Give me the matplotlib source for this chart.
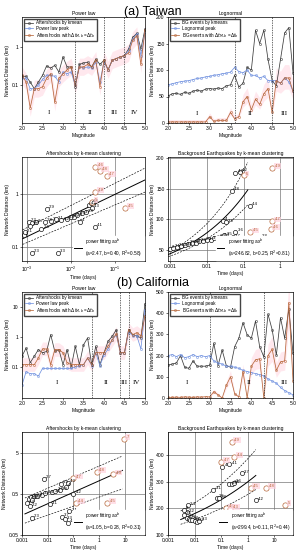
import numpy as np
import matplotlib
matplotlib.use("Agg")
import matplotlib.pyplot as plt
from matplotlib.lines import Line2D
from matplotlib.ticker import FuncFormatter, NullLocator

plt.rcParams['font.family'] = ['Liberation Sans', 'DejaVu Sans']

# magnitude bins
mags = [2.0, 2.1, 2.2, 2.3, 2.4, 2.5, 2.6, 2.7, 2.8, 2.9, 3.0, 3.1, 3.2, 3.3, 3.4, 3.5,
        3.6, 3.7, 3.8, 3.9, 4.0, 4.1, 4.2, 4.3, 4.4, 4.5, 4.6, 4.7, 4.8, 4.9, 5.0]

# (a) Taiwan, power law (aftershocks)
tw_pl_kmean = [0.17, 0.17, 0.12, 0.08, 0.12, 0.18, 0.32, 0.28, 0.33, 0.22, 0.55, 0.30, 0.30, 0.09, 0.35, 0.38,
               0.40, 0.30, 0.48, 0.35, 0.45, 0.25, 0.45, 0.50, 0.55, 0.60, 0.90, 1.80, 2.30, 0.90, 3.00]
tw_pl_peak = [0.15, 0.15, 0.08, 0.08, 0.10, 0.14, 0.18, 0.18, 0.17, 0.12, 0.22, 0.20, 0.22, 0.10, 0.30, 0.28,
              0.30, 0.28, 0.40, 0.12, 0.40, 0.25, 0.45, 0.50, 0.55, 0.60, 0.80, 1.60, 2.20, 0.60, 2.50]
tw_pl_dt = [0.18, 0.12, 0.025, 0.08, 0.08, 0.09, 0.15, 0.20, 0.035, 0.15, 0.20, 0.25, 0.30, 0.10, 0.30, 0.30,
            0.35, 0.30, 0.45, 0.09, 0.45, 0.25, 0.45, 0.50, 0.55, 0.60, 0.70, 1.50, 2.00, 0.35, 2.80]

# (a) Taiwan, lognormal (background)
tw_ln_kmean = [51, 55, 56, 54, 58, 56, 60, 62, 60, 64, 65, 64, 66, 65, 70, 72,
               90, 68, 75, 105, 100, 175, 150, 175, 120, 80, 70, 120, 170, 180, 95]
tw_ln_peak = [72, 74, 76, 78, 79, 80, 82, 84, 85, 87, 88, 90, 91, 93, 94, 96,
              105, 97, 95, 100, 90, 90, 85, 88, 80, 80, 80, 75, 85, 78, 60]
tw_ln_dt = [2, 2, 2, 2, 2, 2, 2, 2, 2, 2, 12, 3, 5, 5, 5, 20,
            8, 12, 40, 50, 25, 45, 35, 55, 65, 20, 80, 75, 85, 85, 60]

# (b) California, power law
ca_pl_kmean = [0.23, 0.43, 0.14, 0.23, 0.38, 0.30, 0.33, 1.20, 0.33, 0.38, 0.12, 0.38, 0.10, 0.49, 0.12, 0.55,
               0.93, 0.12, 0.49, 0.12, 0.30, 0.72, 1.05, 1.75, 0.30, 0.30, 1.75, 1.20, 1.10, 0.93, 13.0]
ca_pl_peak = [0.025, 0.07, 0.06, 0.06, 0.05, 0.09, 0.09, 0.09, 0.09, 0.09, 0.09, 0.09, 0.09, 0.10, 0.11, 0.12,
              0.20, 0.11, 0.30, 0.11, 0.25, 0.40, 0.80, 1.20, 0.30, 0.30, 1.50, 1.10, 1.10, 0.40, 8.0]
ca_pl_dt = [0.12, 0.12, 0.12, 0.12, 0.20, 0.40, 0.40, 0.12, 0.38, 0.38, 0.30, 0.14, 0.12, 0.12, 0.12, 0.12,
            0.20, 0.12, 0.30, 0.30, 0.30, 0.50, 0.80, 1.30, 0.30, 0.30, 1.75, 1.20, 1.40, 1.10, 5.0]

# (b) California, lognormal
ca_ln_kmean = [155, 160, 165, 200, 145, 140, 175, 150, 150, 150, 155, 258, 153, 226, 153, 145,
               242, 282, 355, 298, 282, 363, 242, 194, 395, 322, 202, 379, 282, 420, 210]
ca_ln_peak = [200, 205, 195, 205, 190, 195, 205, 195, 200, 195, 200, 175, 165, 160, 150, 150,
              145, 140, 130, 125, 120, 115, 110, 105, 90, 80, 70, 50, 35, 25, 15]
ca_ln_dt = [3, 3, 4, 3, 5, 4, 3, 5, 4, 6, 5, 30, 15, 0, 60, 100,
            20, 5, 125, 0, 150, 180, 185, 0, 200, 230, 130, 170, 175, 450, 80]

# scatter: (time days, distance km, magnitude)
tw_as_black = [(0.00085, 0.165, 2.0), (0.0009, 0.19, 2.1), (0.0011, 0.30, 2.2), (0.0013, 0.28, 2.4),
               (0.0016, 0.29, 2.7), (0.0012, 0.25, 2.5), (0.0021, 0.22, 2.6), (0.0028, 0.52, 2.9),
               (0.0025, 0.30, 2.8), (0.0035, 0.31, 3.0), (0.0045, 0.33, 3.1), (0.006, 0.32, 3.2),
               (0.008, 0.34, 3.4), (0.010, 0.36, 3.5), (0.012, 0.37, 3.9), (0.014, 0.40, 3.6),
               (0.018, 0.43, 3.7), (0.022, 0.45, 3.8), (0.016, 0.30, 4.0), (0.025, 0.62, 4.2),
               (0.030, 0.55, 4.3), (0.028, 0.68, 4.4), (0.035, 0.24, 4.1), (0.0013, 0.077, 2.3),
               (0.005, 0.078, 3.3)]
tw_as_orange = [(0.035, 3.3, 4.6), (0.045, 2.7, 4.8), (0.065, 2.2, 4.7), (0.035, 1.1, 4.9),
                (0.17, 0.55, 4.5), (0.03, 0.72, 5.0)]

tw_bg_black = [(0.001, 52, 2.0), (0.0012, 54, 2.1), (0.0015, 55, 2.2), (0.002, 56, 2.3),
               (0.0025, 58, 2.4), (0.003, 60, 2.5), (0.004, 61, 2.6), (0.005, 62, 2.7),
               (0.006, 64, 2.8), (0.008, 65, 2.9), (0.01, 66, 3.0), (0.013, 67, 3.1),
               (0.016, 69, 3.2), (0.02, 70, 3.3), (0.025, 72, 3.4), (0.03, 74, 3.5),
               (0.027, 98, 4.0), (0.033, 95, 3.9), (0.05, 71, 3.7), (0.06, 80, 3.6),
               (0.048, 147, 4.8), (0.06, 176, 4.3), (0.08, 178, 4.2), (0.145, 122, 4.4),
               (0.27, 70, 3.8)]
tw_bg_orange = [(0.6, 184, 4.9), (0.6, 97, 4.7), (0.55, 85, 4.6), (0.15, 79, 4.5), (0.1, 172, 5.0)]

ca_as_black = [(0.0018, 0.38, 2.6), (0.0022, 0.42, 2.8), (0.003, 0.44, 2.9), (0.004, 0.45, 3.0),
               (0.0025, 0.36, 2.5), (0.0015, 0.30, 2.4), (0.002, 0.25, 2.2), (0.0024, 0.13, 2.3),
               (0.0071, 1.16, 2.7), (0.006, 0.48, 3.2), (0.008, 0.52, 3.4), (0.012, 0.28, 3.1),
               (0.015, 0.55, 3.5), (0.02, 0.60, 3.6), (0.03, 0.62, 3.8), (0.033, 0.90, 3.9),
               (0.05, 0.75, 4.0), (0.06, 0.95, 4.3), (0.1, 0.50, 4.2), (0.035, 0.14, 3.7),
               (0.045, 0.12, 3.3), (0.06, 0.10, 4.1), (0.07, 0.19, 2.1)]
ca_as_orange = [(0.1, 1.2, 4.7), (0.8, 1.7, 4.8), (3.5, 1.5, 4.9), (0.12, 0.3, 4.4),
                (2.0, 0.3, 4.5), (9.0, 11.0, 7)]

ca_bg_black = [(0.11, 355, 4.0), (0.2, 365, 4.1), (0.6, 332, 3.7), (0.05, 270, 3.1),
               (0.2, 290, 3.9), (0.25, 292, 3.8), (0.3, 295, 3.6), (2.0, 230, 4.2),
               (0.07, 240, 3.5), (0.08, 238, 2.8), (0.0055, 212, 2.4), (0.004, 175, 2.5),
               (0.005, 165, 2.6), (0.006, 160, 2.3), (0.007, 158, 2.7), (0.008, 155, 2.9),
               (0.01, 152, 3.0), (0.012, 150, 3.2), (0.015, 153, 3.3), (0.005, 185, 2.2),
               (0.004, 195, 2.0)]
ca_bg_orange = [(0.25, 448, 4.9), (0.1, 373, 4.7), (0.3, 392, 4.4), (1.3, 276, 4.5),
                (5.0, 278, 4.8), (25.0, 212, 5), (0.15, 200, 4.6), (0.22, 198, 4.3)]

# power fits: a, b, R2, x-range, dashed band (a_lo, b_lo, a_hi, b_hi)
tw_as_fit = (2.47, 0.40, 0.58, (0.0008, 0.48), (1.41, 0.356, 4.2, 0.42))
tw_bg_fit = (246.82, 0.25, 0.81, (0.0009, 0.13), (199, 0.232, 347, 0.286))
ca_as_fit = (1.05, 0.28, 0.31, (0.0013, 8.0), (0.42, 0.22, 2.4, 0.27))
ca_bg_fit = (299.4, 0.11, 0.44, (0.003, 2.0), (252, 0.101, 386, 0.122))

C_K = '#3c3c3c'
C_P = '#7393e0'
C_D = '#b8683c'
FS = 3.6


def box(x0, y0, x1, y1):
    return [x0 / 300, 1 - y1 / 550, (x1 - x0) / 300, (y1 - y0) / 550]


def style(ax):
    for s in ax.spines.values():
        s.set_linewidth(0.5)
    ax.tick_params(labelsize=FS, length=1.5, width=0.4, pad=1)


def mag_panel(ax, k, p, d, labels, bounds, regions, title, log, ylim, yticks, reg_y):
    d = np.array(d, dtype=float)
    if log:
        ax.fill_between(mags, d * 0.6, d * 1.7, color='#ffb6c8', alpha=0.3, lw=0)
    else:
        ax.fill_between(mags, d * 0.75, d * 1.25 + 4, color='#ffb6c8', alpha=0.3, lw=0)
    ax.plot(mags, k, '-o', color=C_K, ms=1.5, lw=0.55, mfc='none', mew=0.4, label=labels[0])
    ax.plot(mags, p, '-o', color=C_P, ms=1.5, lw=0.55, mfc='none', mew=0.4, label=labels[1])
    ax.plot(mags, d, '-o', color=C_D, ms=1.5, lw=0.55, mfc='none', mew=0.4, label=labels[2])
    for b in bounds:
        ax.axvline(b, color='#333333', ls=(0, (2, 1.5)), lw=0.5)
    for x, t in regions:
        ax.text(x, reg_y, t, transform=ax.get_xaxis_transform(), ha='center', va='center',
                fontsize=5, family='Liberation Serif')
    if log:
        ax.set_yscale('log')
        ax.yaxis.set_minor_locator(NullLocator())
    ax.set_ylim(*ylim)
    ax.set_yticks(yticks)
    ax.yaxis.set_major_formatter(FuncFormatter(lambda v, pos: '%g' % v))
    ax.set_xlim(2.0, 5.0)
    ax.set_xticks([2.0, 2.5, 3.0, 3.5, 4.0, 4.5, 5.0])
    ax.set_xticklabels(['2.0', '2.5', '3.0', '3.5', '4.0', '4.5', '5.0'])
    ax.set_xlabel('Magnitude', fontsize=FS, labelpad=1)
    ax.set_ylabel('Network Distance (km)', fontsize=FS, labelpad=1)
    ax.set_title(title, fontsize=FS, pad=1.5)
    ax.legend(loc='upper left', fontsize=FS - 0.3, frameon=True, fancybox=False, edgecolor='#444444',
              handlelength=1.6, borderpad=0.3, labelspacing=0.15, borderaxespad=0.4, framealpha=1)
    style(ax)


def fit_panel(ax, black, orange, fit, title, xlim, ylim, ylog, xticks, xticklabels, yticks):
    a, b, r2, xr, band = fit
    xs = np.logspace(np.log10(xr[0]), np.log10(xr[1]), 60)
    ax.plot(xs, a * xs ** b, color='k', lw=0.7)
    ax.plot(xs, band[0] * xs ** band[1], color='k', lw=0.45, ls=(0, (3, 2)))
    ax.plot(xs, band[2] * xs ** band[3], color='k', lw=0.45, ls=(0, (3, 2)))
    for t, dist, m in black:
        ax.plot(t, dist, 'o', ms=3.0, mfc='white', mec='k', mew=0.45)
        ax.annotate('%g' % m, (t, dist), xytext=(1.6, 0.4), textcoords='offset points',
                    fontsize=FS - 0.5, color='k')
    for t, dist, m in orange:
        ax.plot(t, dist, 'o', ms=3.8, mfc='white', mec=C_D, mew=0.5)
        ax.annotate('%g' % m, (t, dist), xytext=(1.8, 0.6), textcoords='offset points',
                    fontsize=FS - 0.5, color=C_D,
                    bbox=dict(boxstyle='square,pad=0.2', fc='#ffd3df', ec='none', alpha=0.7))
    ax.set_xscale('log')
    if ylog:
        ax.set_yscale('log')
    ax.set_xlim(*xlim)
    ax.set_ylim(*ylim)
    ax.set_xticks(xticks)
    if xticklabels is not None:
        ax.set_xticklabels(xticklabels)
    ax.set_yticks(yticks)
    ax.yaxis.set_major_formatter(FuncFormatter(lambda v, pos: '%g' % v))
    ax.xaxis.set_minor_locator(NullLocator())
    ax.yaxis.set_minor_locator(NullLocator())
    ax.grid(True, color='#777777', lw=0.5)
    ax.set_axisbelow(True)
    h = [Line2D([], [], color='k', lw=0.7)]
    lab = ['power fitting ax$^b$\n(a=%g, b=%.2f, R$^2$=%.2f)' % (a, b, r2)]
    ax.legend(h, lab, loc='lower right', fontsize=FS - 0.2, frameon=True, fancybox=False,
              edgecolor='white', framealpha=1, handlelength=1.6, borderpad=0.2, borderaxespad=0.3)
    ax.set_title(title, fontsize=FS, pad=1.5)
    ax.set_xlabel('Time (days)', fontsize=FS, labelpad=1)
    ax.set_ylabel('Network Distance (km)', fontsize=FS, labelpad=1)
    style(ax)


fig = plt.figure(figsize=(3, 5.5), dpi=100)

fig.text(0.51, 1 - 12 / 550, '(a) Taiwan', ha='center', va='center', fontsize=9)
fig.text(0.51, 1 - 283 / 550, '(b) California', ha='center', va='center', fontsize=9)

as_labels = ['Aftershocks by kmean', 'Power law peak',
             r'Aftershocks with $\Delta t_{M,b}$ =$\Delta t_b$']
bg_labels = ['BG events by kmeans', 'Lognormal peak',
             r'BG events with $\Delta t_{M,b}$ =$\Delta t_b$']

ax = fig.add_axes(box(22, 17, 145, 123))
mag_panel(ax, tw_pl_kmean, tw_pl_peak, tw_pl_dt, as_labels, [3.3, 4.0, 4.5],
          [(2.65, 'I'), (3.65, 'II'), (4.25, 'III'), (4.75, 'IV')], 'Power law', True,
          (0.01, 6.2), [0.1, 1], 0.1)

ax = fig.add_axes(box(168, 17, 293, 123))
mag_panel(ax, tw_ln_kmean, tw_ln_peak, tw_ln_dt, bg_labels, [3.6, 4.5],
          [(2.7, 'I'), (3.97, 'II'), (4.78, 'III')], 'Lognormal', False,
          (0, 200), [0, 50, 100, 150, 200], 0.09)

ax = fig.add_axes(box(22, 157, 145, 261))
fit_panel(ax, tw_as_black, tw_as_orange, tw_as_fit, 'Aftershocks by k-mean clustering',
          (7.7e-4, 0.48), (0.054, 5.0), True, [1e-3, 1e-2, 1e-1], None, [0.1, 1])

ax = fig.add_axes(box(168, 157, 293, 261))
fit_panel(ax, tw_bg_black, tw_bg_orange, tw_bg_fit, 'Background Earthquakes by k-mean clustering',
          (0.00088, 2.2), (32, 202), False, [0.001, 0.01, 0.1, 1], ['0.001', '0.01', '0.1', '1'],
          [50, 100, 150, 200])

ax = fig.add_axes(box(22, 292, 145, 398))
mag_panel(ax, ca_pl_kmean, ca_pl_peak, ca_pl_dt, as_labels, [3.7, 4.4, 4.6],
          [(2.85, 'I'), (4.05, 'II'), (4.5, 'III'), (4.8, 'IV')], 'Power law', True,
          (0.0093, 31.6), [0.1, 1, 10], 0.15)

ax = fig.add_axes(box(168, 292, 293, 398))
mag_panel(ax, ca_ln_kmean, ca_ln_peak, ca_ln_dt, bg_labels, [3.0, 4.3],
          [(2.45, 'I'), (3.95, 'II'), (4.8, 'III')], 'Lognormal', False,
          (0, 500), [0, 100, 200, 300, 400, 500], 0.15)

ax = fig.add_axes(box(22, 432, 145, 535))
fit_panel(ax, ca_as_black, ca_as_orange, ca_as_fit, 'Aftershocks by k-mean clustering',
          (0.001, 60), (0.05, 16.2), True, [0.001, 0.01, 0.1, 1, 10],
          ['0.001', '0.01', '0.1', '1', '10'], [0.05, 0.5, 5])

ax = fig.add_axes(box(168, 432, 293, 535))
fit_panel(ax, ca_bg_black, ca_bg_orange, ca_bg_fit, 'Background Earthquakes by k-mean clustering',
          (0.001, 50), (100, 486), False, [0.001, 0.01, 0.1, 1, 10],
          ['0.001', '0.01', '0.1', '1', '10'], [100, 200, 300, 400])

fig.savefig('out.png', dpi=100)
